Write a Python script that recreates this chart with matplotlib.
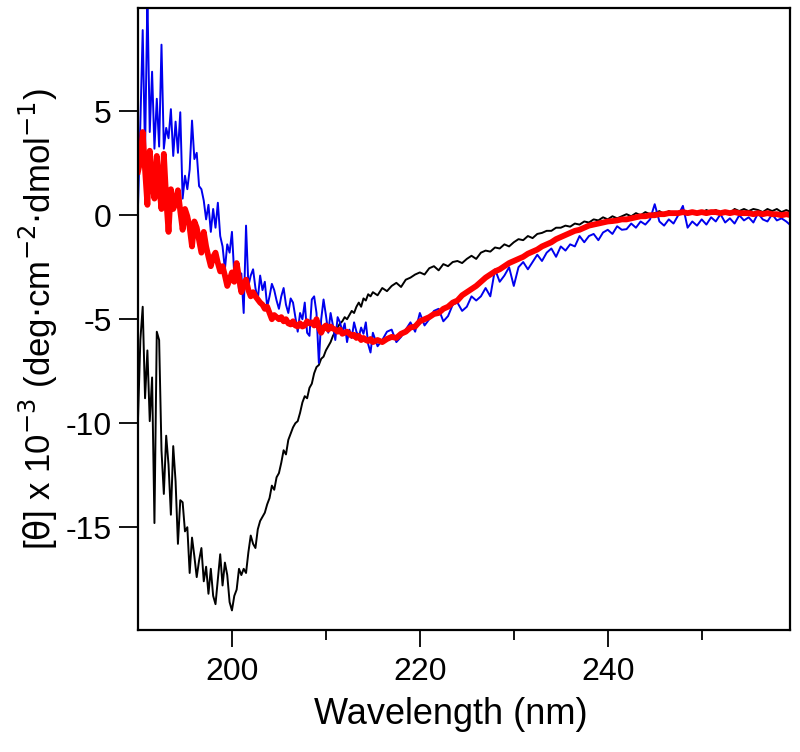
import numpy as np
import matplotlib
matplotlib.use('Agg')
import matplotlib.pyplot as plt

# wavelength grid (nm): 0.25 nm steps up to 215, then 0.5 nm
wl = np.concatenate([np.arange(190, 215, 0.25), np.arange(215, 260, 0.5)])

# mean residue ellipticity x 10^-3
black = [
    -9.8, -6.0, -4.4, -8.8, -6.5, -9.9, -7.8, -14.8, -5.6, -6.0,
    -11.3, -13.4, -10.6, -12.0, -14.4, -11.1, -12.8, -15.8, -13.7, -13.8,
    -15.2, -15.0, -17.2, -15.5, -16.4, -17.4, -16.6, -16.0, -17.6, -16.9,
    -18.2, -17.0, -18.3, -18.7, -17.5, -16.3, -17.8, -16.7, -17.3, -18.6,
    -19.0, -18.3, -18.0, -17.0, -17.3, -17.0, -17.2, -16.2, -15.4, -15.8,
    -16.0, -15.1, -14.7, -14.5, -14.3, -13.9, -13.6, -13.0, -13.2, -12.6,
    -12.4, -11.9, -11.3, -11.5, -10.8, -10.5, -10.2, -10.0, -9.9, -9.5,
    -9.0, -8.7, -8.8, -8.3, -8.1, -7.6, -7.3, -7.2, -6.9, -6.8,
    -6.5, -6.3, -6.1, -5.8, -5.6, -5.4, -5.2, -5.1, -4.9, -5.0,
    -4.8, -4.6, -4.7, -4.4, -4.2, -4.4, -4.0, -4.1, -3.8, -3.9,
    # 215 - 259.5
    -3.7, -3.85, -3.5, -3.65, -3.4, -3.25, -3.45, -3.1, -3.0, -2.85,
    -2.75, -2.85, -2.55, -2.45, -2.65, -2.35, -2.45, -2.25, -2.2, -2.3,
    -2.1, -1.95, -2.1, -1.8, -1.7, -1.75, -1.55, -1.6, -1.4, -1.5,
    -1.3, -1.15, -1.2, -1.0, -1.1, -0.9, -0.85, -0.75, -0.75, -0.6,
    -0.6, -0.5, -0.55, -0.4, -0.45, -0.3, -0.35, -0.2, -0.25, -0.1,
    -0.2, -0.05, -0.15, -0.05, 0.05, -0.05, 0.1, 0.0, 0.15, 0.05,
    0.1, 0.2, 0.05, 0.2, 0.1, 0.15, 0.25, 0.1, 0.2, 0.1,
    0.1, 0.25, 0.15, 0.25, 0.1, 0.2, 0.1, 0.3, 0.2, 0.3,
    0.2, 0.3, 0.25, 0.15, 0.3, 0.2, 0.3, 0.15, 0.25, 0.15,
]

blue = [
    0.45, 4.4, 8.9, 3.0, 10.5, 4.0, 6.9, 3.2, 5.6, 3.3,
    8.2, 3.2, 4.2, 3.7, 5.1, 2.85, 4.5, 3.0, 4.95, 0.8,
    1.9, 1.25, 2.2, 4.55, 2.7, 3.0, 1.4, 1.25, 0.7, -0.2,
    0.5, -0.8, 0.3, -0.6, 0.6, -1.0, -1.5, -2.6, -1.4, -1.8,
    -0.8, -2.9, -2.3, -3.6, -2.8, -4.7, -0.5, -3.4, -2.9, -2.6,
    -3.5, -4.05, -2.9, -3.6, -3.2, -4.4, -3.9, -3.3, -3.6, -4.1,
    -4.5, -3.9, -3.5, -4.3, -4.7, -4.0, -4.2, -4.9, -5.6, -4.7,
    -5.0, -4.2, -5.65, -5.8, -4.05, -3.9, -4.7, -7.1, -5.0, -4.05,
    -4.8, -5.65, -4.7, -5.3, -6.0, -4.9, -5.15, -5.6, -5.2, -6.1,
    -5.5, -5.9, -5.15, -5.6, -5.85, -5.4, -5.7, -5.15, -6.2, -6.6,
    # 215 - 259.5
    -5.65, -6.3, -6.0, -5.6, -5.5, -6.1, -5.85, -5.5, -5.15, -5.6,
    -4.7, -5.3, -5.0, -4.6, -4.5, -5.1, -4.85, -4.3, -4.2, -4.6,
    -4.4, -3.9, -4.1, -3.9, -3.5, -3.9, -2.6, -3.2, -2.9, -2.5,
    -3.4, -2.5, -2.25, -2.6, -2.25, -1.9, -2.2, -1.8, -1.6, -2.0,
    -1.5, -1.7, -1.4, -1.5, -1.0, -1.3, -1.0, -0.9, -1.2, -0.83,
    -0.7, -0.9, -0.53, -0.7, -0.67, -0.4, -0.6, -0.3, -0.45, -0.2,
    0.53, -0.3, -0.5, -0.2, -0.4, 0.0, 0.45, -0.6, -0.3, -0.5,
    -0.2, -0.45, -0.1, -0.3, 0.05, -0.35, -0.15, -0.4, 0.0, -0.25,
    -0.1, -0.35, 0.1, -0.2, -0.3, 0.05, -0.25, -0.15, -0.3, -0.5,
]

red = [
    2.1, 2.6, 4.0, 2.2, 0.5, 3.1, 1.6, 0.8, 2.85, 1.4,
    0.3, 2.95, 0.8, -0.8, 1.25, 0.3, 0.6, 1.2, 0.2, -0.7,
    0.3, -0.05, -0.6, -1.5, -0.3, -0.6, -1.2, -1.8, -0.8, -1.5,
    -2.0, -2.45, -2.0, -1.8, -2.3, -2.7, -2.45, -2.9, -3.4, -3.1,
    -2.75, -3.2, -2.3, -3.0, -3.7, -3.3, -3.1, -3.6, -3.9, -3.7,
    -3.9, -4.05, -4.2, -4.3, -4.5, -4.4, -4.7, -5.0, -4.8, -4.9,
    -5.0, -4.9, -5.1, -5.0, -5.2, -5.25, -5.1, -5.3, -5.35, -5.2,
    -5.35, -5.3, -5.1, -5.2, -5.15, -5.3, -5.0, -5.4, -5.65, -5.4,
    -5.3, -5.5, -5.35, -5.45, -5.5, -5.6, -5.5, -5.7, -5.65, -5.6,
    -5.7, -5.8, -5.75, -5.9, -5.8, -6.0, -5.9, -6.0, -6.05, -5.95,
    # 215 - 259.5
    -6.1, -6.0, -6.1, -5.95, -5.85, -5.9, -5.7, -5.6, -5.4, -5.35,
    -5.1, -5.0, -4.9, -4.75, -4.7, -4.5, -4.4, -4.2, -4.1, -3.85,
    -3.7, -3.55, -3.4, -3.2, -3.0, -2.85, -2.7, -2.6, -2.45, -2.3,
    -2.2, -2.1, -2.0, -1.85, -1.75, -1.65, -1.5, -1.4, -1.3, -1.15,
    -1.05, -0.95, -0.85, -0.75, -0.7, -0.6, -0.5, -0.45, -0.4, -0.35,
    -0.3, -0.28, -0.25, -0.2, -0.2, -0.15, -0.1, -0.05, -0.05, 0.0,
    0.0, 0.05, 0.05, 0.1, 0.1, 0.1, 0.15, 0.1, 0.15, 0.1,
    0.15, 0.1, 0.15, 0.15, 0.1, 0.15, 0.1, 0.15, 0.1, 0.1,
    0.1, 0.05, 0.1, 0.05, 0.1, 0.05, 0.05, 0.0, 0.05, 0.0,
]

x_major = [200, 220, 240]
x_minor = [210, 230, 250]
y_major = [-15, -10, -5, 0, 5]

plt.rcParams['font.family'] = ['Liberation Sans', 'DejaVu Sans']
plt.rcParams['axes.unicode_minus'] = False

fig = plt.figure(figsize=(8, 7.52), dpi=100)
ax = fig.add_axes([0.1725, 0.162, 0.815, 0.827])

ax.plot(wl, black, color='black', lw=1.4)
ax.plot(wl, blue, color='#0000ee', lw=1.4)
ax.plot(wl, red, color='#ff0000', lw=4.2)

ax.set_xlim(190, 259.4)
ax.set_ylim(-19.95, 9.95)
ax.set_xticks(x_major)
ax.set_xticks(x_minor, minor=True)
ax.set_yticks(y_major)

ax.tick_params(axis='x', which='major', direction='out', length=12, width=1.3,
               labelsize=23, pad=7)
ax.tick_params(axis='x', which='minor', direction='out', length=7, width=1.3)
ax.tick_params(axis='y', which='major', direction='out', length=14, width=1.3,
               labelsize=23, pad=5)
for s in ax.spines.values():
    s.set_linewidth(1.6)

ax.set_xlabel('Wavelength (nm)', fontsize=26, labelpad=8)
ax.xaxis.set_label_coords(0.48, -0.108)
ax.set_ylabel(r'[$\mathrm{\theta}$] x 10$^{-3}$ (deg$\cdot$cm$^{-2}$$\cdot$dmol$^{-1}$)',
              fontsize=25, labelpad=4)

plt.savefig('out.png', dpi=100)
